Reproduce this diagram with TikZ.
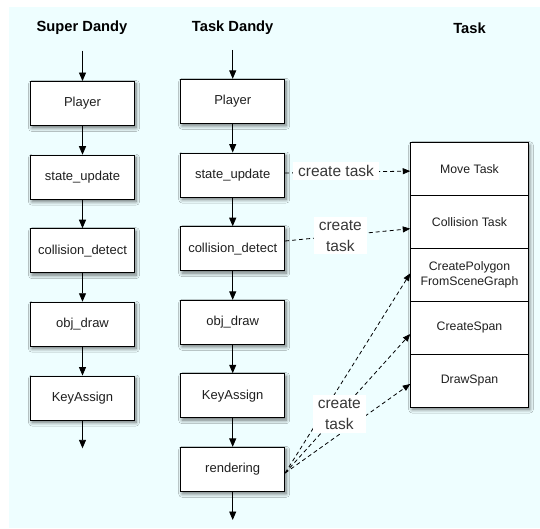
\documentclass[tikz,border=0pt]{standalone}
\usepackage{fontspec}
\setmainfont{Liberation Sans}
\usetikzlibrary{arrows.meta,shadows.blur,calc}
\definecolor{bgcyan}{RGB}{238,254,255}
\tikzset{
  shad/.style={blur shadow={shadow xshift=1.5pt, shadow yshift=-2.5pt, shadow blur steps=8, shadow blur radius=3.5pt, shadow opacity=55}},
  box/.style={draw=black, line width=0.9pt, fill=white, minimum width=104pt, minimum height=44pt, inner sep=0pt,
    text=black!88, font=\fontsize{13}{15}\selectfont, shad},
  cell/.style={draw=black, line width=0.9pt, fill=white, minimum width=117.6pt, minimum height=52.86pt, inner sep=0pt,
    text=black!88, align=center, font=\fontsize{12.3}{14.5}\selectfont},
  stack/.style={draw=black, line width=0.9pt, fill=white, minimum width=117.6pt, minimum height=264.3pt, inner sep=0pt, shad},
  title/.style={font=\fontsize{14.7}{17}\selectfont\bfseries},
  flow/.style={line width=0.9pt, -{Triangle[length=8.5pt,width=7pt]}},
  spawn/.style={line width=0.8pt, dash pattern=on 4pt off 3pt, -{Triangle[length=7.5pt,width=6pt]}},
  lbl/.style={fill=white, inner xsep=5pt, inner ysep=3pt, align=center, text=black!78, font=\fontsize{15.5}{21}\selectfont},
}
\begin{document}
\begin{tikzpicture}[x=1pt,y=-1pt]
\useasboundingbox (0,0) rectangle (540,529);
\fill[bgcyan] (9,7) rectangle (540,528);

% titles
\node[title] (tsd) at (82,28) {Super Dandy};
\node[title] (ttd) at (232.7,28) {Task Dandy};
\node[title] (ttk) at (469.5,28) {Task};

% Super Dandy column
\coordinate (sdin) at (82.5,50.7);
\node[box] (sp) at (82.5,103.5) {Player};
\node[box] (ss) at (82.5,177.2) {state\_update};
\node[box] (sc) at (82.5,250.7) {collision\_detect};
\node[box] (so) at (82.5,324.2) {obj\_draw};
\node[box] (sk) at (82.5,398) {KeyAssign};
\coordinate (sdout) at (82.5,448.3);
\draw[flow] (sdin) -- (sp);
\draw[flow] (sp) -- (ss);
\draw[flow] (ss) -- (sc);
\draw[flow] (sc) -- (so);
\draw[flow] (so) -- (sk);
\draw[flow] (sk) -- (sdout);

% Task Dandy column
\coordinate (tdin) at (232.7,50);
\node[box] (tp) at (232.7,101.3) {Player};
\node[box] (ts) at (232.7,175) {state\_update};
\node[box] (tc) at (232.7,248.7) {collision\_detect};
\node[box] (to) at (232.7,322.3) {obj\_draw};
\node[box] (tk) at (232.7,395.7) {KeyAssign};
\node[box] (tr) at (232.7,469.3) {rendering};
\coordinate (tdout) at (232.7,520);
\draw[flow] (tdin) -- (tp);
\draw[flow] (tp) -- (ts);
\draw[flow] (ts) -- (tc);
\draw[flow] (tc) -- (to);
\draw[flow] (to) -- (tk);
\draw[flow] (tk) -- (tr);
\draw[flow] (tr) -- (tdout);

% Task stack
\node[stack] (tstack) at (469.5,274.85) {};
\node[cell] (mv) at (469.5,169.13) {Move Task};
\node[cell] (cl) at (469.5,221.99) {Collision Task};
\node[cell] (cp) at (469.5,274.85) {CreatePolygon\\FromSceneGraph};
\node[cell] (cs) at (469.5,327.71) {CreateSpan};
\node[cell] (ds) at (469.5,380.57) {DrawSpan};

% create task arrows
\draw[spawn] ([yshift=2pt]ts.east) -- ([yshift=-2pt]mv.west);
\draw[spawn] ([yshift=7.7pt]tc.east) -- ([yshift=-6.7pt]cl.west);
\draw[spawn] ([yshift=-3.7pt]tr.east) -- ([yshift=1.5pt]cp.west);
\draw[spawn] ([yshift=-3.7pt]tr.east) -- ([yshift=-6.3pt]cs.west);
\draw[spawn] ([yshift=-3.7pt]tr.east) -- ([yshift=-3.4pt]ds.west);

\node[lbl] (l1) at (336,171) {create task};
\node[lbl] (l2) at (340.3,235.8) {create\\task};
\node[lbl] (l3) at (339.3,414) {create\\task};
\end{tikzpicture}
\end{document}
